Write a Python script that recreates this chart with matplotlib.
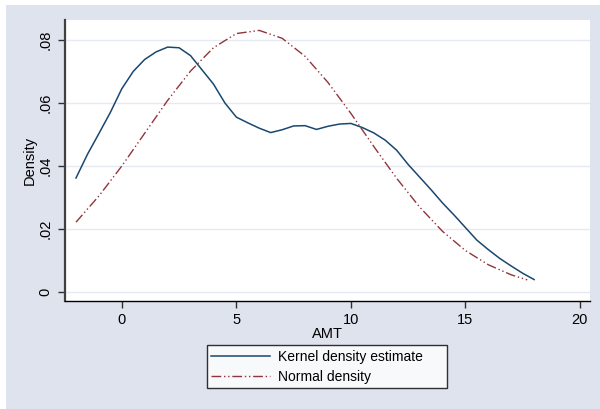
import matplotlib
matplotlib.use("Agg")
import matplotlib.pyplot as plt
from matplotlib.patches import Rectangle

plt.rcParams["font.family"] = ["Liberation Sans", "DejaVu Sans"]

# kernel density estimate of AMT
kde_x = [-2.0, -1.5, -1.0, -0.5, 0.0, 0.5, 1.0, 1.5, 2.0, 2.5, 3.0, 3.5, 4.0,
         4.5, 5.0, 5.5, 6.0, 6.5, 7.0, 7.5, 8.0, 8.5, 9.0, 9.5, 10.0, 10.5,
         11.0, 11.5, 12.0, 12.5, 13.0, 13.5, 14.0, 14.5, 15.0, 15.5, 16.0,
         16.5, 17.0, 17.5, 18.0]
kde_y = [0.0362, 0.0437, 0.0503, 0.0570, 0.0645, 0.0700, 0.0738, 0.0762,
         0.0777, 0.0775, 0.0750, 0.0705, 0.0660, 0.0600, 0.0555, 0.0537,
         0.0520, 0.0506, 0.0515, 0.0527, 0.0528, 0.0516, 0.0526, 0.0533,
         0.0535, 0.0522, 0.0505, 0.0482, 0.0450, 0.0405, 0.0365, 0.0325,
         0.0283, 0.0245, 0.0205, 0.0165, 0.0135, 0.0107, 0.0083, 0.0060,
         0.0040]

# normal density overlay
norm_x = [-2.0, -1.0, 0.0, 1.0, 2.0, 3.0, 4.0, 5.0, 6.0, 7.0, 8.0, 9.0,
          10.0, 11.0, 12.0, 13.0, 14.0, 15.0, 16.0, 17.0, 17.7]
norm_y = [0.0222, 0.0305, 0.0400, 0.0504, 0.0608, 0.0701, 0.0775, 0.0820,
          0.0830, 0.0805, 0.0748, 0.0665, 0.0567, 0.0462, 0.0361, 0.0270,
          0.0193, 0.0132, 0.0087, 0.0055, 0.0039]

yticks = [0, 0.02, 0.04, 0.06, 0.08]
ytick_labels = ["0", ".02", ".04", ".06", ".08"]
xticks = [0, 5, 10, 15, 20]

navy = "#1a476f"
maroon = "#90353b"
bg = "#dfe3ee"

fig = plt.figure(figsize=(6.0, 4.09), dpi=100)
fig.patch.set_facecolor("white")
fig.patches.append(Rectangle((6 / 600, 0), 1, 1 - 5 / 409, transform=fig.transFigure,
                             facecolor=bg, edgecolor="none", zorder=-10))

ax = fig.add_axes([65 / 600, 1 - 301 / 409, 525 / 600, 281 / 409])
ax.set_facecolor("white")

ax.plot(kde_x, kde_y, color=navy, lw=1.1, label="Kernel density estimate")
ax.plot(norm_x, norm_y, color=maroon, lw=1.0, dashes=(7, 2, 1, 2, 1, 2),
        label="Normal density")

ax.set_xlim(-2.48, 20.44)
ax.set_ylim(-0.0028, 0.0863)
ax.set_yticks(yticks)
ax.set_yticklabels(ytick_labels, rotation=90, va="center")
ax.set_xticks(xticks)
ax.grid(axis="y", color="#e6eaf2", lw=1.0)
ax.set_axisbelow(True)

for side in ("top", "right"):
    ax.spines[side].set_visible(False)
ax.spines["left"].set_color("#404040")
ax.spines["left"].set_linewidth(1.6)
ax.spines["bottom"].set_color("black")
ax.spines["bottom"].set_linewidth(1.0)
ax.tick_params(direction="out", length=5, width=1, color="#303030",
               labelsize=10.5, pad=4)

ax.set_xlabel("AMT", fontsize=10.5, labelpad=0)
ax.set_ylabel("Density", fontsize=10.5, labelpad=1)

# legend box below the axis, stretched to a fixed width
leg = ax.legend(loc="upper left", bbox_to_anchor=(0.2705, -0.167, 0.457, 0.01),
                mode="expand", ncol=1, frameon=True, fancybox=False,
                fontsize=10, handlelength=4.2, handletextpad=0.58,
                borderpad=0.32, labelspacing=0.43, borderaxespad=0)
leg.get_frame().set_edgecolor("black")
leg.get_frame().set_linewidth(1.0)

fig.savefig("out.png", dpi=100, facecolor=fig.get_facecolor())
